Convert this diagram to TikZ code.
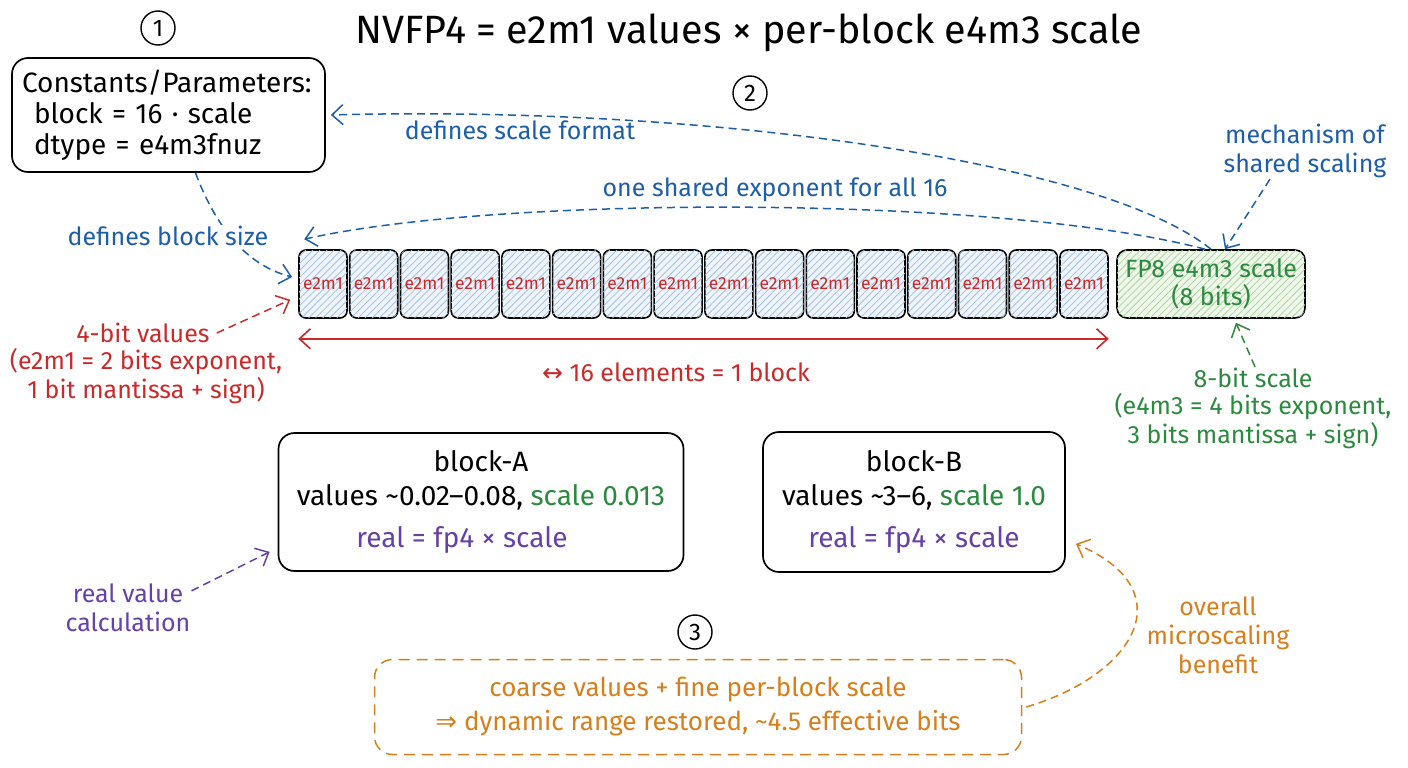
\documentclass[tikz,border=0pt]{standalone}
\usepackage{fontspec}
\setmainfont{Fira Sans}
\newfontfamily\symfont{DejaVu Sans}
\usetikzlibrary{arrows.meta,patterns.meta}

\definecolor{inkblue}{HTML}{1D5EA8}
\definecolor{inkred}{HTML}{C92A2A}
\definecolor{inkgreen}{HTML}{2B8A3E}
\definecolor{inkpurple}{HTML}{6741A6}
\definecolor{inkorange}{HTML}{D67F1C}
\definecolor{cellbg}{HTML}{EEF4FA}
\definecolor{cellhatch}{HTML}{A3C2E2}
\definecolor{scalebg}{HTML}{EEF7EA}
\definecolor{scalehatch}{HTML}{AED6A3}

\begin{document}
\begin{tikzpicture}[x=1pt, y=-1pt,
    lbl/.style={font=\fontsize{25}{29}\selectfont, align=center, inner sep=1pt},
    box/.style={draw=black, line width=1.7pt, rounded corners=16pt},
    boxtext/.style={font=\fontsize{28}{34}\selectfont, align=center},
    cell/.style={draw=black, line width=1.6pt, rounded corners=7pt,
        minimum width=48pt, minimum height=68pt, inner sep=0pt, fill=cellbg,
        postaction={pattern={Lines[angle=45,distance=5pt,line width=0.8pt]}, pattern color=cellhatch},
        text=inkred, font=\fontsize{17.5}{18}\selectfont},
    num/.style={circle, draw, line width=1.4pt, minimum size=34pt, inner sep=0pt, font=\fontsize{24}{24}\selectfont},
    note/.style={dash pattern=on 8pt off 5pt, line width=1.5pt, -{Straight Barb[length=11pt,width=20pt]}},
]
    \useasboundingbox (0,0) rectangle (1408,768);
    \fill[white] (0,0) rectangle (1408,768);

    % Title and step numbers
    \node[font=\fontsize{39.5}{42}\selectfont] (title) at (749,33) {NVFP4 = e2m1 values × per-block e4m3 scale};
    \node[num] (n1) at (158,28) {1};
    \node[num] (n2) at (750,93) {2};
    \node[num] (n3) at (695,632) {3};

    % Constants box
    \node[box, minimum width=313pt, minimum height=114pt, text width=293pt, align=left,
        font=\fontsize{28}{31}\selectfont] (cpar) at (168.5,115)
        {Constants/Parameters:\\\hspace*{12pt}block = 16 · scale\\\hspace*{12pt}dtype = e4m3fnuz};

    % One block of 16 values
    \foreach \i in {1,...,16}
        \node[cell] (c\i) at ({323+50.73*(\i-1)},284) {e2m1};

    % Shared scale
    \node[draw=black, line width=1.6pt, rounded corners=10pt, minimum width=188pt, minimum height=68pt,
        fill=scalebg, postaction={pattern={Lines[angle=45,distance=5pt,line width=0.8pt]}, pattern color=scalehatch},
        text=inkgreen, align=center, font=\fontsize{25}{28}\selectfont] (fp8) at (1211,284)
        {FP8 e4m3 scale\\(8 bits)};

    % Block width
    \draw[inkred, line width=1.6pt, {Straight Barb[length=11pt,width=20pt]}-{Straight Barb[length=11pt,width=20pt]}]
        ([yshift=-20pt]c1.south west) -- ([yshift=-20pt]c16.south east);
    \node[lbl, text=inkred] (elems) at (676,372) {{\symfont ↔} 16 elements = 1 block};

    % Labels
    \node[lbl, text=inkblue] (sf) at (520,130) {defines scale format};
    \node[lbl, text=inkblue] (sh) at (775,190) {one shared exponent for all 16};
    \node[lbl, text=inkblue] (mech) at (1305,151) {mechanism of\\shared scaling};
    \node[lbl, text=inkred] (vb) at (143,333) {4-bit values};
    \node[lbl, text=inkred] (vbd) at (146,376) {(e2m1 = 2 bits exponent,\\1 bit mantissa + sign)};
    \node[lbl, text=inkgreen] (s8) at (1253,378) {8-bit scale};
    \node[lbl, text=inkgreen] (s8d) at (1253,421) {(e4m3 = 4 bits exponent,\\3 bits mantissa + sign)};
    \node[lbl, text=inkpurple] (rv) at (128,608) {real value\\calculation};
    \node[lbl, text=inkorange] (ov) at (1218,635) {overall\\microscaling\\benefit};

    % Example blocks
    \node[box, boxtext, minimum width=405pt, minimum height=138pt] (blkA) at (481,502)
        {block-A\\values \textasciitilde0.02–0.08, {\color{inkgreen}scale 0.013}\\[8pt]
        \hspace*{-38pt}{\color{inkpurple}real = fp4 × scale}};
    \node[box, boxtext, minimum width=302pt, minimum height=140pt] (blkB) at (914,502)
        {block-B\\values \textasciitilde3–6, {\color{inkgreen}scale 1.0}\\[8pt]
        {\color{inkpurple}real = fp4 × scale}};

    % Summary
    \node[draw=inkorange, line width=1.5pt, dash pattern=on 11pt off 7pt, rounded corners=18pt,
        minimum width=647pt, minimum height=95pt, text=inkorange, align=center,
        font=\fontsize{26}{34}\selectfont] (ob) at (698,707)
        {coarse values + fine per-block scale\\{\symfont ⇒} dynamic range restored, \textasciitilde4.5 effective bits};

    % Arrows
    \draw[note, inkblue] (fp8.north) .. controls (1100,160) and (700,105) .. ([xshift=5pt]cpar.east);
    \draw[note, inkblue] ([xshift=-6pt]fp8.north) .. controls (1000,195) and (500,195) .. ([shift={(6pt,10pt)}]c1.north west);
    \draw[note, inkblue] ([xshift=-35pt]mech.south) -- ([xshift=14pt]fp8.north);
    \draw[note, inkblue] ([xshift=27pt]cpar.south) .. controls (215,225) and (245,265) .. ([shift={(-6pt,7pt)}]c1.west);
    \node[lbl, text=inkblue, fill=white] (bs) at (168,236) {defines block size};
    \draw[note, inkred] ([xshift=6pt]vb.east) -- ([shift={(-8pt,19pt)}]c1.south west);
    \draw[note, inkgreen] ([xshift=2pt]s8.north) -- ([shift={(25pt,-4pt)}]fp8.south);
    \draw[note, inkpurple] ([yshift=-8pt]rv.north east) -- ([shift={(-8pt,20pt)}]blkA.south west);
    \draw[note, inkorange] ([xshift=4pt]ob.east) .. controls (1135,675) and (1185,590) .. ([shift={(10pt,29pt)}]blkB.south east);
\end{tikzpicture}
\end{document}
